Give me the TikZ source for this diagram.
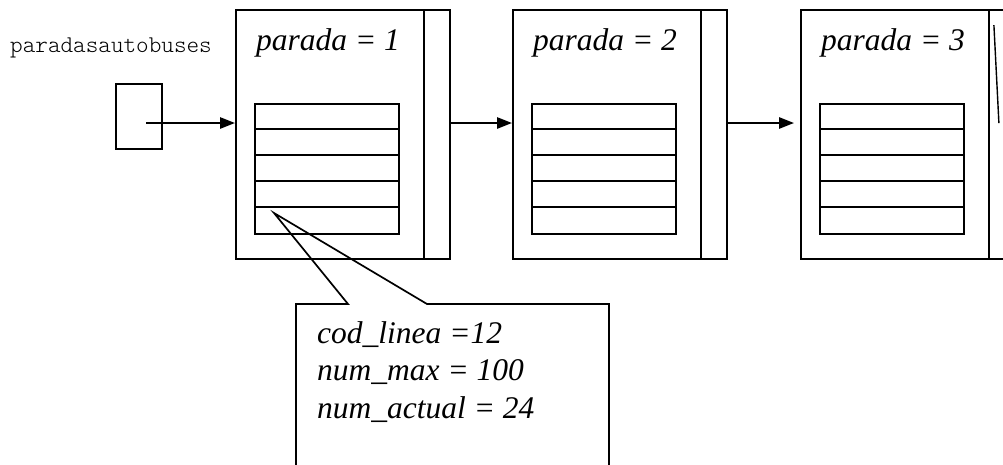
\documentclass[tikz,border=0pt]{standalone}
\usepackage{fontspec}
\setmainfont{Liberation Serif}
\setmonofont{Latin Modern Mono Light}
\usetikzlibrary{arrows.meta,calc}
\begin{document}
\begin{tikzpicture}[x=1pt,y=-1pt,
  stopbox/.style={draw,line width=1.8pt,minimum width=214pt,minimum height=249pt,inner sep=0pt},
  tablebox/.style={draw,line width=1.7pt,minimum width=144pt,minimum height=130pt,inner sep=0pt},
  rowline/.style={line width=1.6pt},
  headbox/.style={draw,line width=1.6pt,minimum width=46pt,minimum height=65pt,inner sep=0pt},
  ptr/.style={line width=2.4pt,-{Triangle[length=15pt,width=11pt]}},
  bigtext/.style={font=\fontsize{31.5pt}{37.5pt}\selectfont\itshape,inner sep=0pt},
  monotext/.style={font=\fontsize{24pt}{28pt}\selectfont\ttfamily,inner sep=0pt},
  calloutline/.style={line width=1.7pt,line join=miter}]
\useasboundingbox (0,0) rectangle (1003,464);
\clip (0,0) rectangle (1003,464);

% list head variable
\node[monotext,anchor=base west] (lbl) at (10,52) {paradasautobuses};
\node[headbox] (head) at (139,116.5) {};
\coordinate (hp) at (146,123);

% the three stops of the list
\foreach \i/\x in {1/236,2/513,3/801}{
  \node[stopbox] (s\i) at (\x+107,134.5) {};
  \draw[line width=1.8pt] ([xshift=-27pt]s\i.north east) -- ([xshift=-27pt]s\i.south east);
  \node[bigtext,anchor=base west] (p\i) at (\x+20,50) {parada = \i};
  \node[tablebox] (t\i) at (\x+19+72,169) {};
  \foreach \r in {1,2,3,4}{
    \draw[rowline] ($(t\i.north west)+(0,26*\r)$) -- ($(t\i.north east)+(0,26*\r)$);
  }
}

% links between the stops
\draw[ptr] (hp) -- (s1.west |- hp);
\draw[ptr] (s1.east |- hp) -- (s2.west |- hp);
\draw[ptr,shorten >=6pt] (s2.east |- hp) -- (s3.west |- hp);

% null mark in the last link field
\draw[line width=1.4pt] ($(s3.north east)+(-22,16)$) -- ($(s3.north east)+(-17,114)$);

% callout describing one line of stop 1
\coordinate (tip) at (274,213);
\draw[calloutline] (296,470) -- (296,304) -- (348,304) -- (tip) -- (427,304) -- (609,304) -- (609,470);
\node[bigtext,anchor=base west] (c1) at (317,343) {cod\_linea =12};
\node[bigtext,anchor=base west] (c2) at (317,380.5) {num\_max = 100};
\node[bigtext,anchor=base west] (c3) at (317,418) {num\_actual = 24};
\end{tikzpicture}
\end{document}
